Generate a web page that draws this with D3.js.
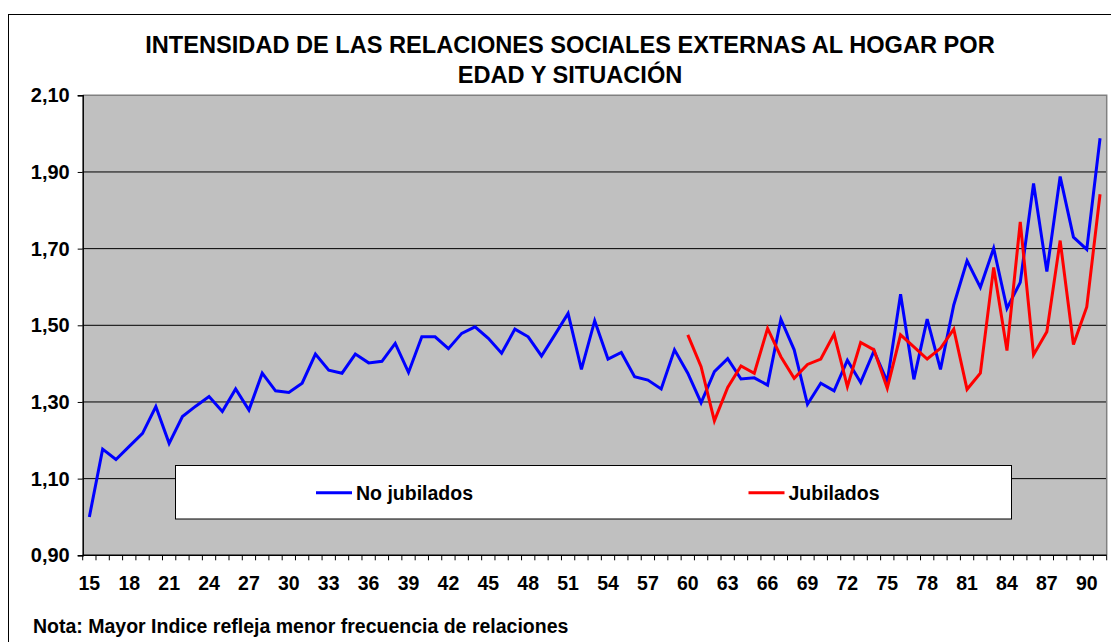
<!DOCTYPE html>
<html>
<head>
<meta charset="utf-8">
<script src="https://cdn.jsdelivr.net/npm/d3@7"></script>
<style>
  html, body { margin: 0; padding: 0; background: #fff; }
  svg { display: block; font-family: "Liberation Sans", Arial, sans-serif; font-weight: bold; }
</style>
</head>
<body>
<svg id="chart" width="1111" height="642"></svg>
<script>
const ages = [15,16,17,18,19,20,21,22,23,24,25,26,27,28,29,30,31,32,33,34,35,36,37,38,39,40,
  41,42,43,44,45,46,47,48,49,50,51,52,53,54,55,56,57,58,59,60,61,62,63,64,65,66,67,68,69,70,
  71,72,73,74,75,76,77,78,79,80,81,82,83,84,85,86,87,88,89,90,91];

const noJubilados = [1.000,1.177,1.150,1.184,1.218,1.288,1.192,1.262,1.289,1.314,1.275,1.334,1.279,
  1.375,1.329,1.325,1.349,1.425,1.383,1.375,1.425,1.402,1.406,1.453,1.377,1.470,1.470,1.439,
  1.479,1.496,1.466,1.427,1.490,1.470,1.420,1.475,1.531,1.385,1.512,1.412,1.429,1.366,1.357,
  1.334,1.436,1.375,1.298,1.379,1.413,1.360,1.363,1.344,1.516,1.436,1.294,1.349,1.329,1.409,
  1.351,1.433,1.353,1.581,1.359,1.516,1.385,1.553,1.668,1.599,1.701,1.544,1.612,1.870,1.640,
  1.888,1.730,1.698,1.988];

const jubiladosAges = [60,61,62,63,64,65,66,67,68,69,70,71,72,73,74,75,76,77,78,79,80,81,82,83,
  84,85,86,87,88,89,90,91];
const jubilados = [1.475,1.392,1.251,1.338,1.394,1.375,1.492,1.418,1.362,1.398,1.412,1.477,1.340,
  1.455,1.436,1.336,1.475,1.444,1.412,1.440,1.490,1.333,1.375,1.651,1.434,1.770,1.423,1.483,
  1.721,1.450,1.548,1.842];

const yTicks = [0.9,1.1,1.3,1.5,1.7,1.9,2.1];
const xLabelAges = [15,18,21,24,27,30,33,36,39,42,45,48,51,54,57,60,63,66,69,72,75,78,81,84,87,90];

const titleLines = ["INTENSIDAD DE LAS RELACIONES SOCIALES EXTERNAS AL HOGAR POR", "EDAD Y SITUACIÓN"];
const seriesNames = ["No jubilados", "Jubilados"];
const note = "Nota: Mayor Indice refleja menor frecuencia de relaciones";

const svg = d3.select("#chart");
const P = { left: 82.7, right: 1106.7, top: 95.3, bottom: 555.3 };

const x = d3.scaleBand().domain(ages).range([P.left, P.right]).padding(0);
const y = d3.scaleLinear().domain([0.9, 2.1]).range([P.bottom, P.top]);
const bw = x.bandwidth();
const cx = a => x(a) + bw / 2;

const loc = d3.formatLocale({ decimal: ",", thousands: ".", grouping: [3], currency: ["", ""] });
const fmt = loc.format(".2f");

// outer frame
svg.append("rect").attr("x", 8.5).attr("y", 14.5).attr("width", 1200).attr("height", 700)
  .attr("fill", "#fff").attr("stroke", "#000").attr("stroke-width", 1);

// plot background
svg.append("rect").attr("x", P.left).attr("y", P.top)
  .attr("width", P.right - P.left).attr("height", P.bottom - P.top)
  .attr("fill", "#C0C0C0");

// gridlines
svg.append("g").selectAll("line").data(yTicks.filter(t => t > 0.9 && t < 2.1)).join("line")
  .attr("x1", P.left).attr("x2", P.right)
  .attr("y1", d => y(d)).attr("y2", d => y(d))
  .attr("stroke", "#000").attr("stroke-width", 1);

// top and right plot borders (gray)
svg.append("path")
  .attr("d", `M${P.left},${P.top}H${P.right}V${P.bottom}`)
  .attr("fill", "none").attr("stroke", "#808080").attr("stroke-width", 1.5);

// y axis
const yAxis = d3.axisLeft(y).tickValues(yTicks).tickFormat(fmt).tickSize(5).tickPadding(8);
const gy = svg.append("g").attr("transform", `translate(${P.left},0)`).call(yAxis);
gy.select(".domain").attr("stroke", "#000").attr("stroke-width", 1.5);
gy.selectAll(".tick line").attr("stroke", "#000");
gy.selectAll(".tick text").attr("fill", "#000").attr("font-size", "20px")
  .attr("font-family", "Liberation Sans, Arial, sans-serif").attr("font-weight", "bold");

// x axis line
svg.append("line").attr("x1", P.left).attr("x2", P.right)
  .attr("y1", P.bottom).attr("y2", P.bottom)
  .attr("stroke", "#000").attr("stroke-width", 1.5);
// x ticks at category boundaries
const tickPos = ages.map(a => x(a)).concat([P.right]);
svg.append("g").selectAll("line").data(tickPos).join("line")
  .attr("x1", d => d).attr("x2", d => d)
  .attr("y1", P.bottom).attr("y2", P.bottom + 5)
  .attr("stroke", "#000").attr("stroke-width", 1);
// x labels
svg.append("g").selectAll("text").data(xLabelAges).join("text")
  .attr("x", d => cx(d)).attr("y", 590)
  .attr("text-anchor", "middle").attr("font-size", "19.5px").attr("fill", "#000")
  .text(d => d);

// lines
const line = d3.line().x(d => cx(d[0])).y(d => y(d[1]));
svg.append("path").datum(ages.map((a, i) => [a, noJubilados[i]]))
  .attr("d", line).attr("fill", "none").attr("stroke", "#0000FF")
  .attr("stroke-width", 3).attr("stroke-linejoin", "miter");
svg.append("path").datum(jubiladosAges.map((a, i) => [a, jubilados[i]]))
  .attr("d", line).attr("fill", "none").attr("stroke", "#FF0000")
  .attr("stroke-width", 3).attr("stroke-linejoin", "miter");

// legend
const lg = svg.append("g");
lg.append("rect").attr("x", 175.5).attr("y", 465.5).attr("width", 836).attr("height", 53.5)
  .attr("fill", "#fff").attr("stroke", "#000").attr("stroke-width", 1);
const legendItems = [
  { name: seriesNames[0], color: "#0000FF", x0: 316 },
  { name: seriesNames[1], color: "#FF0000", x0: 748.5 }
];
legendItems.forEach(it => {
  lg.append("line").attr("x1", it.x0).attr("x2", it.x0 + 36)
    .attr("y1", 492.7).attr("y2", 492.7).attr("stroke", it.color).attr("stroke-width", 3);
  lg.append("text").attr("x", it.x0 + 40).attr("y", 499.5)
    .attr("font-size", "19.5px").attr("fill", "#000").text(it.name);
});

// title
svg.append("g").selectAll("text").data(titleLines).join("text")
  .attr("x", 570).attr("y", (d, i) => 53 + i * 30)
  .attr("text-anchor", "middle").attr("font-size", "23.6px").attr("fill", "#000")
  .text(d => d);

// note
svg.append("text").attr("x", 33).attr("y", 633)
  .attr("font-size", "19.5px").attr("fill", "#000").text(note);
</script>
</body>
</html>
